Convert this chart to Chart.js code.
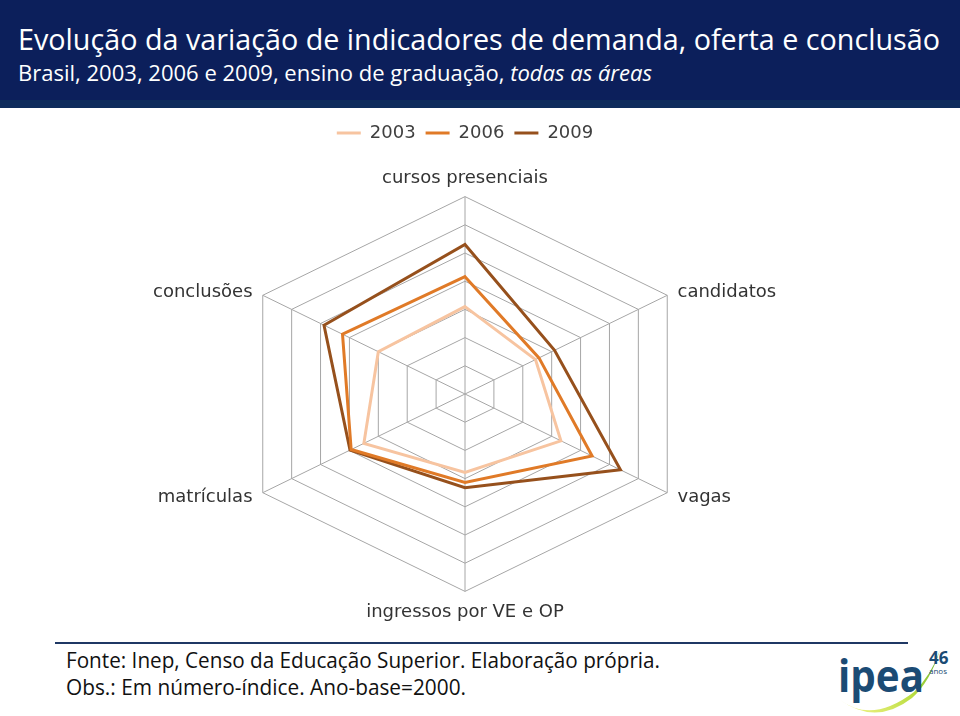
<!DOCTYPE html>
<html lang="pt-BR">
<head>
<meta charset="utf-8">
<title>Evolução da variação de indicadores</title>
<script src="https://cdn.jsdelivr.net/npm/chart.js@4.4.1/dist/chart.umd.min.js"></script>
<style>
  html, body { margin: 0; padding: 0; background: #fff; }
  body { width: 960px; height: 716px; position: relative; overflow: hidden; font-family: "Open Sans", sans-serif; }
  #head { position: absolute; left: 0; top: 0; width: 960px; height: 100px; background: #0c1f5b; }
  #headStrip { position: absolute; left: 0; top: 100px; width: 960px; height: 8px; background: #0e2b5c; }
  .fit { position: absolute; white-space: nowrap; line-height: 1; transform-origin: 0 0; display: inline-block; }
  #title { left: 18px; top: 24px; font-size: 29px; color: #fff; }
  #subtitle { left: 18px; top: 63px; font-size: 21px; color: #fff; }
  #chartBox { position: absolute; left: 85px; top: 114px; width: 760px; height: 510px; }
  #rule { position: absolute; left: 55px; top: 642px; width: 853px; height: 2px; background: #1f3864; }
  .note { font-size: 22px; color: #111; }
  #note1 { left: 66px; top: 648px; }
  #note2 { left: 66px; top: 675px; }
  #logo { position: absolute; left: 832px; top: 642px; }
</style>
</head>
<body>
<div id="head"></div>
<div id="headStrip"></div>
<div id="title" class="fit" data-w="922">Evolução da variação de indicadores de demanda, oferta e conclusão</div>
<div id="subtitle" class="fit" data-w="634">Brasil, 2003, 2006 e 2009, ensino de graduação, <i>todas as áreas</i></div>

<div id="chartBox"><canvas id="radar"></canvas></div>

<div id="rule"></div>
<div id="note1" class="fit note" data-w="594">Fonte: Inep, Censo da Educação Superior. Elaboração própria.</div>
<div id="note2" class="fit note" data-w="400">Obs.: Em número-índice. Ano-base=2000.</div>

<svg id="logo" width="128" height="74" viewBox="0 0 128 74">
  <defs>
    <linearGradient id="sw" x1="0" y1="1" x2="1" y2="0">
      <stop offset="0" stop-color="#f4f48a"/>
      <stop offset="0.5" stop-color="#b9dd40"/>
      <stop offset="1" stop-color="#5fae2e"/>
    </linearGradient>
  </defs>
  <path d="M8 58 Q 40 82, 82 50 Q 100 32, 108 8 Q 98 40, 80 56 Q 44 84, 8 58 Z" fill="url(#sw)"/>
  <text x="6" y="50" font-family="Open Sans, sans-serif" font-weight="700" font-size="44" fill="#1b4b74" textLength="86" lengthAdjust="spacingAndGlyphs">ipea</text>
  <text x="97" y="22" font-family="Open Sans, sans-serif" font-weight="700" font-size="17" fill="#1b4b74">46</text>
  <text x="97" y="32" font-family="Open Sans, sans-serif" font-size="8" fill="#1b4b74">anos</text>
</svg>

<script>
// eixos do radar, em sentido horário a partir do topo
const categories = ['cursos presenciais', 'candidatos', 'vagas', 'ingressos por VE e OP', 'matrículas', 'conclusões'];
const years = ['2003', '2006', '2009'];

// número-índice, ano-base 2000 = 100
const values2003 = [155, 122, 166, 139, 175, 150];
const values2006 = [208, 128, 220, 157, 197, 212];
const values2009 = [265, 155, 269, 166, 199, 244];

const scaleMin = 0;
const scaleMax = 350;
const scaleStep = 50;

const colors = ['#f7c4a0', '#e07a27', '#96501c'];

// the original picture is an excel radar stretched sideways
const STRETCH_X = 1.183;
const LEGEND_GAP = 14;

const Base = Chart.RadialLinearScale;
class StretchRadial extends Base {
  getPointPosition(index, distance, additionalAngle = 0) {
    const p = super.getPointPosition(index, distance, additionalAngle);
    return { x: this.xCenter + (p.x - this.xCenter) * STRETCH_X, y: p.y, angle: p.angle };
  }
  fit() {
    super.fit();
    // side labels sit centred on their axis direction, like in excel
    const items = this._pointLabelItems || [];
    items.forEach((it, i) => {
      const deg = Math.round(this.getIndexAngle(i) * 180 / Math.PI) % 360;
      let dy = 0;
      if (deg === 0) dy = 3;
      else if (deg !== 180) {
        const h = it.bottom - it.top;
        dy = (deg < 90 || deg > 270) ? h / 2 + 2 : -h / 2;
      }
      it.y += dy; it.top += dy; it.bottom += dy;
    });
  }
}
StretchRadial.id = 'stretchRadial';
Chart.register(StretchRadial);

const legendGap = {
  id: 'legendGap',
  beforeInit(chart) {
    if (!chart.legend) return;
    const origFit = chart.legend.fit;
    chart.legend.fit = function () {
      origFit.call(this);
      this.height += LEGEND_GAP;
    };
  }
};

const series = [values2003, values2006, values2009];

new Chart(document.getElementById('radar'), {
  type: 'radar',
  data: {
    labels: categories,
    datasets: years.map((y, i) => ({
      label: y,
      data: series[i],
      borderColor: colors[i],
      backgroundColor: colors[i],
      borderWidth: 3,
      pointRadius: 0,
      pointHoverRadius: 0,
      fill: false,
      tension: 0
    }))
  },
  options: {
    responsive: true,
    maintainAspectRatio: false,
    animation: false,
    layout: { padding: 0 },
    plugins: {
      legend: {
        position: 'top',
        labels: {
          usePointStyle: true,
          pointStyle: 'line',
          pointStyleWidth: 24,
          color: '#404040',
          padding: 10,
          font: { family: 'DejaVu Sans', size: 18 }
        }
      },
      tooltip: { enabled: false }
    },
    scales: {
      r: {
        type: 'stretchRadial',
        min: scaleMin,
        max: scaleMax,
        ticks: { display: false, stepSize: scaleStep },
        grid: { color: '#a6a6a6', lineWidth: 1 },
        angleLines: { color: '#a6a6a6', lineWidth: 1 },
        pointLabels: {
          color: '#333333',
          padding: 10,
          font: { family: 'DejaVu Sans', size: 18 }
        }
      }
    }
  },
  plugins: [legendGap]
});

// squeeze the text blocks to the widths seen in the picture
document.querySelectorAll('.fit').forEach(el => {
  const target = +el.dataset.w;
  const w = el.getBoundingClientRect().width;
  if (w > 0) el.style.transform = 'scaleX(' + (target / w) + ')';
});
</script>
</body>
</html>
